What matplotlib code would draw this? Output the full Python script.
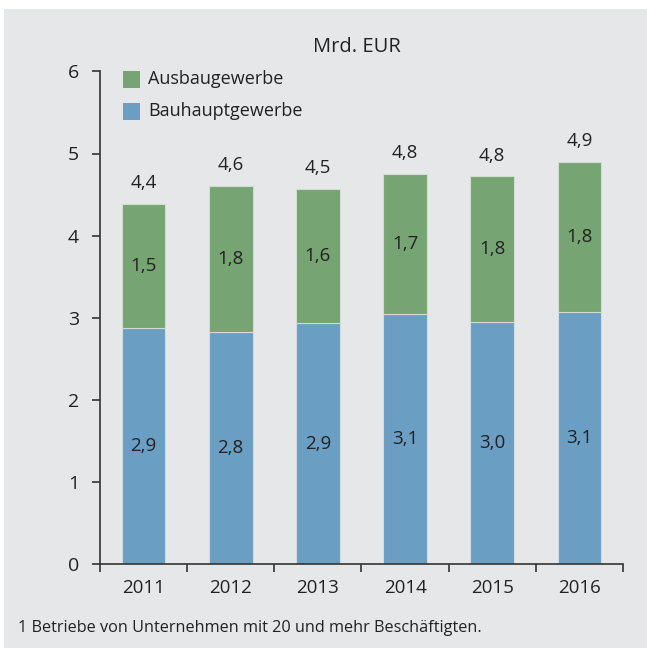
import matplotlib
matplotlib.use("Agg")
import matplotlib.pyplot as plt
from matplotlib.patches import Rectangle
import numpy as np

years = ["2011", "2012", "2013", "2014", "2015", "2016"]
bauhaupt = [2.88, 2.83, 2.93, 3.05, 2.95, 3.07]
ausbau = [1.51, 1.78, 1.64, 1.70, 1.77, 1.83]
bauhaupt_labels = ["2,9", "2,8", "2,9", "3,1", "3,0", "3,1"]
ausbau_labels = ["1,5", "1,8", "1,6", "1,7", "1,8", "1,8"]
total_labels = ["4,4", "4,6", "4,5", "4,8", "4,8", "4,9"]
yticks = [0, 1, 2, 3, 4, 5, 6]

plt.rcParams['font.family'] = ['Open Sans', 'DejaVu Sans']

GREEN = "#76A473"
BLUE = "#6A9EC2"
BG = "#E6E7E9"
TXT = "#222222"

fig = plt.figure(figsize=(6.47, 6.48), dpi=100)
fig.patch.set_facecolor("white")
fig.patches.append(Rectangle((4/647, 0), 1, 1 - 9/648, transform=fig.transFigure,
                             facecolor=BG, edgecolor="none", zorder=-10))

ax = fig.add_axes([100/647, 1 - 564/648, 523/647, (564 - 71.4)/648])
ax.set_facecolor("none")

x = np.arange(len(years))
ax.bar(x, bauhaupt, width=0.5, color=BLUE, edgecolor="#D0DCE5", linewidth=0.8, zorder=2)
ax.bar(x, ausbau, width=0.5, bottom=bauhaupt, color=GREEN, edgecolor="#D0DDCF", linewidth=0.8, zorder=2)

totals = np.array(bauhaupt) + np.array(ausbau)
for i in range(len(years)):
    ax.text(x[i], bauhaupt[i] / 2, bauhaupt_labels[i], ha="center", va="center",
            fontsize=13.5, color=TXT)
    ax.text(x[i], bauhaupt[i] + ausbau[i] / 2, ausbau_labels[i], ha="center", va="center",
            fontsize=13.5, color=TXT)
    ax.annotate(total_labels[i], (x[i], totals[i]), xytext=(0, 15), textcoords="offset points",
                ha="center", va="center", fontsize=13.5, color=TXT)

ax.set_xlim(-0.5, len(years) - 0.5)
ax.set_ylim(0, 6)
ax.set_yticks(yticks)
ax.set_yticklabels([str(t) for t in yticks], fontsize=14, color=TXT)
ax.set_xticks(np.arange(-0.5, len(years), 1.0))
ax.set_xticklabels([])
ax.set_xticks(x, minor=True)
ax.set_xticklabels(years, minor=True, fontsize=13.5, color=TXT)
ax.tick_params(axis="x", which="major", direction="out", length=6, width=1.2, color="#333333")
ax.tick_params(axis="x", which="minor", length=0, pad=11)
ax.tick_params(axis="y", direction="out", length=6, width=1.2, color="#333333", pad=9)

for s in ["top", "right"]:
    ax.spines[s].set_visible(False)
for s in ["left", "bottom"]:
    ax.spines[s].set_color("#333333")
    ax.spines[s].set_linewidth(1.2)

fig.text(357/647, 1 - 47/648, "Mrd. EUR", ha="center", va="center", fontsize=14.5, color=TXT)

# legend
for j, (lab, col) in enumerate([("Ausbaugewerbe", GREEN), ("Bauhauptgewerbe", BLUE)]):
    yc = 79 + j * 32
    fig.patches.append(Rectangle((123/647, 1 - (yc + 8.5)/648), 17/647, 17/648,
                                 transform=fig.transFigure, facecolor=col, edgecolor="none"))
    fig.text(148/647, 1 - yc/648, lab, ha="left", va="center", fontsize=13, color=TXT)

fig.text(18/647, 1 - 628/648, "1 Betriebe von Unternehmen mit 20 und mehr Beschäftigten.",
         ha="left", va="center", fontsize=11.7, color=TXT)

fig.savefig("out.png", dpi=100, facecolor=fig.get_facecolor())
